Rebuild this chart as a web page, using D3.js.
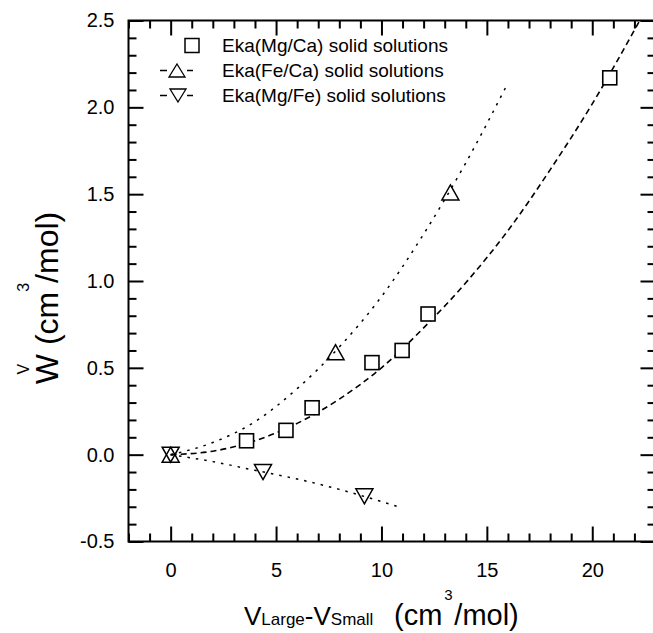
<!DOCTYPE html>
<html>
<head>
<meta charset="utf-8">
<script src="https://cdn.jsdelivr.net/npm/d3@7"></script>
<style>
body { margin: 0; background: #fff; }
text { font-family: "Liberation Sans", Arial, sans-serif; fill: #000; }
</style>
</head>
<body>
<svg id="chart" width="653" height="633"></svg>
<script>
let mgCaX = [3.6, 5.47, 6.71, 9.55, 10.98, 12.21, 20.83];
let mgCaY = [0.08, 0.14, 0.27, 0.53, 0.60, 0.81, 2.17];
let feCaX = [0, 7.82, 13.27];
let feCaY = [0, 0.59, 1.51];
let mgFeX = [0, 4.38, 9.19];
let mgFeY = [0, -0.10, -0.24];

// fitted curves
let mgCaFitX = [0, 2, 4, 6, 8, 10, 12, 14, 16, 18, 20, 22.25];
let mgCaFitY = [0, 0.02, 0.08, 0.18, 0.32, 0.50, 0.73, 0.99, 1.29, 1.64, 2.02, 2.50];
let feCaFitX = [0, 2, 4, 6, 8, 10, 12, 14, 16];
let feCaFitY = [0, 0.07, 0.19, 0.38, 0.62, 0.91, 1.27, 1.68, 2.14];
let mgFeFitX = [0, 2, 4, 6, 8, 10, 10.8];
let mgFeFitY = [0, -0.04, -0.09, -0.14, -0.20, -0.27, -0.30];

let xMajor = [0, 5, 10, 15, 20];
let yMajor = [-0.5, 0, 0.5, 1.0, 1.5, 2.0, 2.5];
let legendLabels = ["Eka(Mg/Ca) solid solutions", "Eka(Fe/Ca) solid solutions", "Eka(Mg/Fe) solid solutions"];

let plotLeft = 128.5, plotRight = 655.5, plotTop = 20.5, plotBottom = 541.5;

let svg = d3.select("svg#chart");

let x = d3.scaleLinear().domain([-2, 23]).range([plotLeft, plotRight]);
let y = d3.scaleLinear().domain([-0.5, 2.5]).range([plotBottom, plotTop]);

let xMinor = d3.range(-2, 24, 1).filter(d => xMajor.indexOf(d) < 0);
let yMinor = d3.range(-5, 26, 1).map(d => d / 10).filter(d => yMajor.every(m => Math.abs(m - d) > 1e-6));

function axisPair(makeAxis, padding, transform, major, minor, fmt) {
    let g = svg.append("g").attr("transform", transform);
    g.append("g").call(makeAxis().tickValues(major).tickSize(-15).tickPadding(padding).tickFormat(fmt));
    g.append("g").call(makeAxis().tickValues(minor).tickSize(-8).tickFormat(""));
    g.selectAll(".domain").remove();
    g.selectAll("line").attr("stroke", "#000").attr("stroke-width", 2);
    g.selectAll("g").attr("font-size", 20).attr("font-family", '"Liberation Sans", Arial, sans-serif');
    g.selectAll("text").attr("fill", "#000");
    return g;
}

axisPair(() => d3.axisBottom(x), 21, `translate(0,${plotBottom})`, xMajor, xMinor, d3.format("d"));
axisPair(() => d3.axisTop(x), 3, `translate(0,${plotTop})`, xMajor, xMinor, () => "");
axisPair(() => d3.axisLeft(y), 14, `translate(${plotLeft},0)`, yMajor, yMinor, d => d.toFixed(1));
axisPair(() => d3.axisRight(y), 3, `translate(${plotRight},0)`, yMajor, yMinor, () => "");

svg.append("rect")
    .attr("x", plotLeft).attr("y", plotTop)
    .attr("width", plotRight - plotLeft).attr("height", plotBottom - plotTop)
    .attr("fill", "none").attr("stroke", "#000").attr("stroke-width", 2);

// fit curves
let line = d3.line().x(d => x(d[0])).y(d => y(d[1])).curve(d3.curveMonotoneX);

svg.append("path")
    .datum(d3.zip(mgCaFitX, mgCaFitY))
    .attr("d", line)
    .attr("fill", "none").attr("stroke", "#000").attr("stroke-width", 1.6)
    .attr("stroke-dasharray", "6,4");
svg.append("path")
    .datum(d3.zip(feCaFitX, feCaFitY))
    .attr("d", line)
    .attr("fill", "none").attr("stroke", "#000").attr("stroke-width", 1.5)
    .attr("stroke-dasharray", "2.5,6");
svg.append("path")
    .datum(d3.zip(mgFeFitX, mgFeFitY))
    .attr("d", line)
    .attr("fill", "none").attr("stroke", "#000").attr("stroke-width", 1.5)
    .attr("stroke-dasharray", "2.5,6");

// markers
let tri = (w, h, dir) => `M0,${-dir * h / 2}L${w / 2},${dir * h / 2}L${-w / 2},${dir * h / 2}Z`;

svg.append("g").selectAll("rect")
    .data(d3.zip(mgCaX, mgCaY))
    .enter().append("rect")
    .attr("x", d => x(d[0]) - 7).attr("y", d => y(d[1]) - 7)
    .attr("width", 14).attr("height", 14)
    .attr("fill", "#fff").attr("stroke", "#000").attr("stroke-width", 1.6);

svg.append("g").selectAll("path")
    .data(d3.zip(feCaX, feCaY))
    .enter().append("path")
    .attr("transform", d => `translate(${x(d[0])},${y(d[1])})`)
    .attr("d", tri(17, 15, 1))
    .attr("fill", "none").attr("stroke", "#000").attr("stroke-width", 1.5);

svg.append("g").selectAll("path")
    .data(d3.zip(mgFeX, mgFeY))
    .enter().append("path")
    .attr("transform", d => `translate(${x(d[0])},${y(d[1])})`)
    .attr("d", tri(17, 15, -1))
    .attr("fill", "none").attr("stroke", "#000").attr("stroke-width", 1.5);

// legend
let legend = svg.append("g");
let rowY = [45.5, 70.5, 95.5];
legend.selectAll("text")
    .data(legendLabels)
    .enter().append("text")
    .attr("x", 222).attr("y", (d, i) => rowY[i] + 6.5)
    .attr("font-size", 19)
    .text(d => d);
legend.append("rect")
    .attr("x", 185).attr("y", rowY[0] - 7).attr("width", 14).attr("height", 14)
    .attr("fill", "none").attr("stroke", "#000").attr("stroke-width", 1.5);
legend.append("path").attr("transform", `translate(177,${rowY[1]})`).attr("d", tri(16, 13, 1))
    .attr("fill", "none").attr("stroke", "#000").attr("stroke-width", 1.3);
legend.append("path").attr("transform", `translate(178,${rowY[2]})`).attr("d", tri(16, 13, -1))
    .attr("fill", "none").attr("stroke", "#000").attr("stroke-width", 1.3);
[1, 2].forEach(i => {
    [[160, 167], [187, 193]].forEach(s => {
        legend.append("line")
            .attr("x1", s[0]).attr("x2", s[1]).attr("y1", rowY[i]).attr("y2", rowY[i])
            .attr("stroke", "#000").attr("stroke-width", 1.5);
    });
});

// x axis title
let xt = svg.append("text")
    .attr("x", 244).attr("y", 625)
    .attr("font-size", 26);
xt.append("tspan").text("V");
xt.append("tspan").attr("font-size", 17).text("Large");
xt.append("tspan").text("-V");
xt.append("tspan").attr("font-size", 17).text("Small");
let cm = svg.append("text").attr("x", 394).attr("y", 625).attr("font-size", 29).text("(cm");
let cmEnd = 394 + cm.node().getComputedTextLength();
svg.append("text").attr("x", cmEnd + 12).attr("y", 625).attr("font-size", 29).text("/mol)");
svg.append("text").attr("x", cmEnd + 6).attr("y", 600).attr("font-size", 15)
    .attr("text-anchor", "middle").text("3");

// y axis title
let yg = svg.append("g").attr("transform", "translate(58,298) rotate(-90)");
let yt = yg.append("text")
    .attr("x", 0).attr("y", 0)
    .attr("text-anchor", "middle")
    .attr("font-size", 32)
    .style("white-space", "pre")
    .text("W (cm /mol)");
let yn = yt.node();
let wMid = (yn.getStartPositionOfChar(0).x + yn.getEndPositionOfChar(0).x) / 2;
let sMid = (yn.getStartPositionOfChar(5).x + yn.getEndPositionOfChar(5).x) / 2;
yg.append("text").attr("x", wMid).attr("y", -29).attr("font-size", 16)
    .attr("text-anchor", "middle").text("V");
yg.append("text").attr("x", sMid).attr("y", -29).attr("font-size", 16)
    .attr("text-anchor", "middle").text("3");
</script>
</body>
</html>
